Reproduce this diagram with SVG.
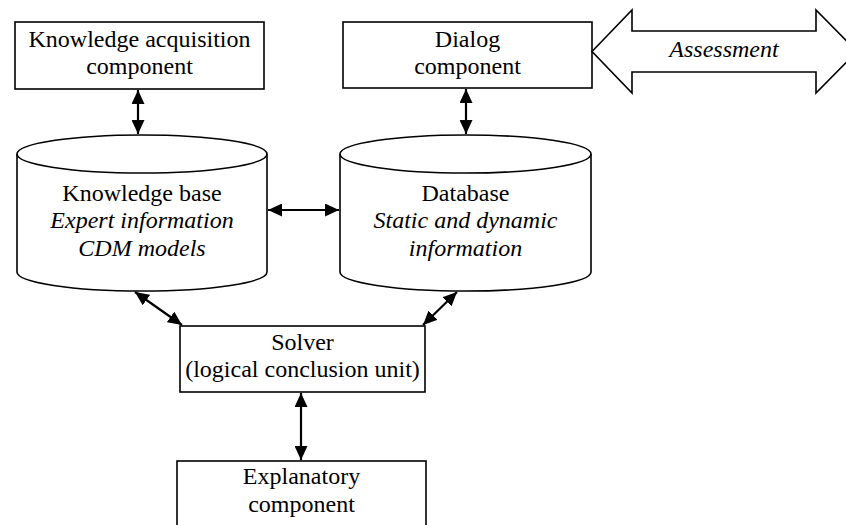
<svg xmlns="http://www.w3.org/2000/svg" width="846" height="525" viewBox="0 0 846 525">
<style>
.box{fill:#fff;stroke:#000;stroke-width:1.6}
.t{font-family:"Times New Roman","Liberation Serif","DejaVu Serif",serif;font-size:24px;fill:#000;text-anchor:middle}
.i{font-style:italic}
.c{fill:none;stroke:#000;stroke-width:2.2}
</style>
<defs>
<marker id="ah" viewBox="0 0 14 13" refX="14" refY="6.5" markerWidth="14" markerHeight="13" markerUnits="userSpaceOnUse" orient="auto-start-reverse">
<path d="M0,0 L14,6.5 L0,13 Z" fill="#000"/>
</marker>
</defs>
<g id="ka">
<rect class="box" x="15" y="22" width="249" height="67"/>
<text class="t" x="139.5" y="47">Knowledge acquisition</text>
<text class="t" x="139.5" y="74">component</text>
</g>
<g id="dialog">
<rect class="box" x="343" y="22" width="249" height="66"/>
<text class="t" x="467.5" y="47">Dialog</text>
<text class="t" x="467.5" y="74">component</text>
</g>
<g id="assessment">
<path class="box" d="M592,51.5 L632,10 L632,31 L816,31 L816,10 L857,51.5 L816,93 L816,72 L632,72 L632,93 Z"/>
<text class="t i" x="724" y="57">Assessment</text>
</g>
<g id="kb">
<path class="box" d="M17,154 A125,19 0 0,1 267,154 L267,272 A125,19 0 0,1 17,272 Z"/>
<path class="box" style="fill:none" d="M17,154 A125,19 0 0,0 267,154"/>
<text class="t" x="142" y="201">Knowledge base</text>
<text class="t i" x="142" y="228">Expert information</text>
<text class="t i" x="142" y="256">CDM models</text>
</g>
<g id="db">
<path class="box" d="M340,154 A125.5,19 0 0,1 591,154 L591,272 A125.5,19 0 0,1 340,272 Z"/>
<path class="box" style="fill:none" d="M340,154 A125.5,19 0 0,0 591,154"/>
<text class="t" x="465.5" y="201">Database</text>
<text class="t i" x="465.5" y="228">Static and dynamic</text>
<text class="t i" x="465.5" y="256">information</text>
</g>
<g id="solver">
<rect class="box" x="180" y="326" width="245" height="66"/>
<text class="t" x="302.5" y="350">Solver</text>
<text class="t" x="302.5" y="377">(logical conclusion unit)</text>
</g>
<g id="explanatory">
<rect class="box" x="177" y="461" width="249" height="70"/>
<text class="t" x="301.5" y="484">Explanatory</text>
<text class="t" x="301.5" y="512">component</text>
</g>
<g id="connectors">
<line class="c" x1="138" y1="90" x2="138" y2="134" marker-start="url(#ah)" marker-end="url(#ah)"/>
<line class="c" x1="466" y1="89" x2="466" y2="134" marker-start="url(#ah)" marker-end="url(#ah)"/>
<line class="c" x1="268" y1="210" x2="339" y2="210" marker-start="url(#ah)" marker-end="url(#ah)"/>
<line class="c" x1="135" y1="292" x2="182" y2="325" marker-start="url(#ah)" marker-end="url(#ah)"/>
<line class="c" x1="457" y1="292" x2="423" y2="325" marker-start="url(#ah)" marker-end="url(#ah)"/>
<line class="c" x1="301" y1="393" x2="301" y2="460" marker-start="url(#ah)" marker-end="url(#ah)"/>
</g>
</svg>
